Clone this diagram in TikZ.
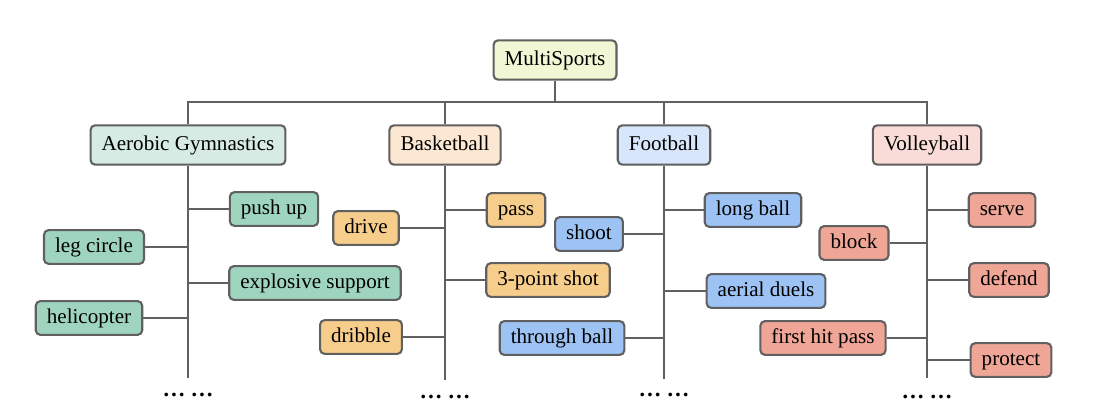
\documentclass[tikz,border=0pt]{standalone}
\usepackage{fontspec}
\setmainfont{Liberation Serif}
\definecolor{edge}{HTML}{606060}
\definecolor{rootc}{HTML}{F1F6D4}
\definecolor{agc}{HTML}{D6EBE3}
\definecolor{bkc}{HTML}{FCE8D2}
\definecolor{fbc}{HTML}{D7E6FA}
\definecolor{vbc}{HTML}{F9DCD7}
\definecolor{agl}{HTML}{9FD5BF}
\definecolor{bkl}{HTML}{F7CD8C}
\definecolor{fbl}{HTML}{9DC3F5}
\definecolor{vbl}{HTML}{EFA697}
\tikzset{
  box/.style={draw=edge, line width=1.2pt, rounded corners=2.6pt, font=\fontsize{12}{14}\selectfont,
    inner xsep=6.3pt, text height=8.6pt, text depth=2.6pt},
  cat/.style={box, inner ysep=5.6pt},
  leaf/.style={box, inner ysep=4pt},
  conn/.style={draw=edge, line width=1.45pt},
  dotsn/.style={font=\fontsize{13}{15}\selectfont\bfseries, anchor=base}
}
\begin{document}
\begin{tikzpicture}[x=0.02cm,y=-0.02cm]
\useasboundingbox (0,0) rectangle (1098,408);
\fill[white] (0,0) rectangle (1098,408);
% root and categories
\node[cat, fill=rootc] (ms) at (555,60) {MultiSports};
\node[cat, fill=agc] (ag) at (188,145) {Aerobic Gymnastics};
\node[cat, fill=bkc] (bk) at (445,145) {Basketball};
\node[cat, fill=fbc] (fb) at (664,145) {Football};
\node[cat, fill=vbc] (vb) at (927,145) {Volleyball};
\coordinate (bar) at (555,102);
\coordinate (agend) at (188,378);
\coordinate (bkend) at (445,380);
\coordinate (fbend) at (664,379);
\coordinate (vbend) at (927,378);
% leaves: aerobic gymnastics
\node[leaf, fill=agl] (pushup) at (274,209) {push up};
\node[leaf, fill=agl] (legcircle) at (94,247) {leg circle};
\node[leaf, fill=agl] (explosive) at (315,283) {explosive support};
\node[leaf, fill=agl] (helicopter) at (89,318) {helicopter};
% basketball
\node[leaf, fill=bkl] (pass) at (516,210) {pass};
\node[leaf, fill=bkl] (drive) at (366,228) {drive};
\node[leaf, fill=bkl] (threept) at (548,280) {3-point shot};
\node[leaf, fill=bkl] (dribble) at (361,337) {dribble};
% football
\node[leaf, fill=fbl] (longball) at (753,210) {long ball};
\node[leaf, fill=fbl] (shoot) at (589,234) {shoot};
\node[leaf, fill=fbl] (aerial) at (766,291) {aerial duels};
\node[leaf, fill=fbl] (through) at (562,338) {through ball};
% volleyball
\node[leaf, fill=vbl] (serve) at (1002,210) {serve};
\node[leaf, fill=vbl] (block) at (854,243) {block};
\node[leaf, fill=vbl] (defend) at (1009,280) {defend};
\node[leaf, fill=vbl] (firsthit) at (823,338) {first hit pass};
\node[leaf, fill=vbl] (protect) at (1011,360) {protect};
% tree connectors
\draw[conn] (ms.south) -- (bar);
\draw[conn] (ag.north) -- (ag.north |- bar) -- (vb.north |- bar) -- (vb.north);
\draw[conn] (bk.north) -- (bk.north |- bar);
\draw[conn] (fb.north) -- (fb.north |- bar);
\draw[conn] (ag.south) -- (agend);
\draw[conn] (bk.south) -- (bkend);
\draw[conn] (fb.south) -- (fbend);
\draw[conn] (vb.south) -- (vbend);
\foreach \n in {pushup,explosive} \draw[conn] (\n.west) -- (\n.west -| ag.south);
\foreach \n in {legcircle,helicopter} \draw[conn] (\n.east) -- (\n.east -| ag.south);
\foreach \n in {pass,threept} \draw[conn] (\n.west) -- (\n.west -| bk.south);
\foreach \n in {drive,dribble} \draw[conn] (\n.east) -- (\n.east -| bk.south);
\foreach \n in {longball,aerial} \draw[conn] (\n.west) -- (\n.west -| fb.south);
\foreach \n in {shoot,through} \draw[conn] (\n.east) -- (\n.east -| fb.south);
\foreach \n in {serve,defend,protect} \draw[conn] (\n.west) -- (\n.west -| vb.south);
\foreach \n in {block,firsthit} \draw[conn] (\n.east) -- (\n.east -| vb.south);
% dots
\node[dotsn] (agdots) at (188,396) {…\hspace{3pt}…};
\node[dotsn] (bkdots) at (445,398) {…\hspace{3pt}…};
\node[dotsn] (fbdots) at (664,396) {…\hspace{3pt}…};
\node[dotsn] (vbdots) at (927,398) {…\hspace{3pt}…};
\end{tikzpicture}
\end{document}
